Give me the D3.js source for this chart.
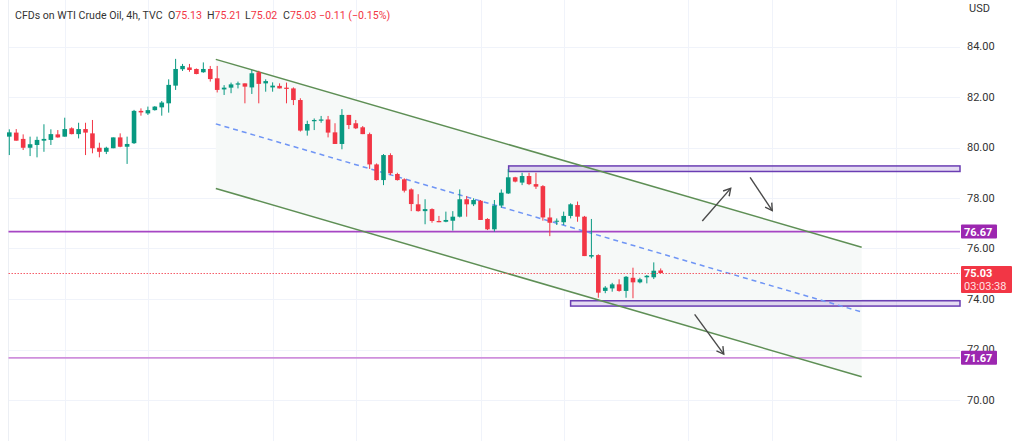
<!DOCTYPE html>
<html><head><meta charset="utf-8">
<script src="https://cdn.jsdelivr.net/npm/d3@7"></script>
<style>html,body{margin:0;padding:0;background:#fff;}svg{display:block;font-family:Roboto,"Trebuchet MS",sans-serif;}</style>
</head><body><svg id="c" width="1024" height="441"></svg>
<script>
// ---- data ----
const candleOpen  = [80.43,80.59,80.34,79.99,80.10,80.27,80.30,80.52,80.43,80.76,80.53,80.73,80.56,79.99,79.83,79.97,80.40,80.03,80.17,81.45,81.35,81.48,81.59,81.75,82.45,83.10,83.17,83.11,82.98,83.11,82.74,82.30,82.37,82.49,82.54,82.38,82.98,82.54,82.38,82.44,82.37,82.34,81.88,80.67,81.04,81.06,81.11,80.60,80.14,81.29,80.96,80.80,80.53,79.33,78.71,79.70,78.95,78.74,78.34,77.75,77.48,77.56,77.09,77.06,77.10,77.26,77.95,77.75,77.89,77.17,76.76,77.70,78.18,78.82,78.61,78.87,78.55,78.47,77.23,77.06,77.04,77.29,77.72,77.26,75.68,75.74,74.32,74.42,74.58,74.32,74.84,74.66,74.86,74.86,75.13];
const candleHigh  = [80.72,80.73,80.52,80.43,80.43,80.92,80.72,80.69,81.18,80.80,80.98,80.98,81.09,80.19,80.03,80.40,80.56,80.43,81.49,81.55,81.62,81.64,81.84,82.70,83.51,83.31,83.31,83.13,83.37,83.23,83.23,82.47,82.57,82.61,82.54,83.07,83.04,82.70,82.58,82.54,82.57,82.38,81.95,81.06,81.15,81.25,81.25,80.96,81.52,81.29,81.09,80.85,80.59,79.37,79.74,79.77,79.00,78.78,78.38,78.15,77.95,77.59,77.29,77.46,77.48,78.34,78.08,77.99,77.92,77.20,77.92,78.34,79.14,78.84,79.00,79.00,79.00,78.51,77.59,77.19,77.46,77.79,77.86,77.29,77.17,75.77,74.51,74.64,74.78,74.91,75.24,74.84,74.95,75.45,75.21];
const candleLow   = [79.70,80.27,79.90,79.66,79.61,79.83,80.10,80.39,80.43,80.52,80.36,79.70,79.77,79.61,79.74,79.97,80.01,79.35,80.14,81.26,81.29,81.46,81.26,81.38,82.28,83.03,83.00,82.90,82.96,82.61,82.18,82.08,82.15,82.34,81.75,82.12,81.75,82.21,82.21,82.34,81.75,81.68,80.63,80.47,80.69,80.98,80.40,80.14,79.93,80.73,80.73,80.53,79.15,78.69,78.51,78.91,78.69,78.22,77.48,77.46,76.96,77.02,77.04,77.04,76.71,77.23,77.26,77.68,77.13,76.73,76.67,77.62,78.16,78.62,78.51,78.51,78.36,77.10,76.49,76.93,76.93,77.19,77.06,75.70,75.61,74.05,74.23,74.29,74.29,74.05,74.03,74.62,74.62,74.79,75.02];
const candleClose = [80.60,80.27,79.99,80.13,80.30,80.34,80.53,80.40,80.73,80.53,80.73,80.59,79.97,79.83,79.99,80.40,80.03,80.14,81.45,81.39,81.48,81.62,81.78,82.48,83.11,83.23,83.07,82.91,83.11,82.71,82.28,82.37,82.50,82.54,82.41,82.94,82.52,82.63,82.45,82.34,82.32,81.88,80.67,80.93,81.09,81.11,80.59,80.14,81.29,80.89,80.76,80.53,79.33,78.71,79.70,78.98,78.71,78.29,77.76,77.48,77.56,77.09,77.04,77.13,77.26,77.95,77.75,77.92,77.13,76.76,77.70,78.21,78.82,78.65,78.87,78.55,78.45,77.23,77.02,77.10,77.29,77.75,77.26,75.70,75.74,74.25,74.45,74.58,74.32,74.88,74.66,74.78,74.92,75.12,75.03];

const priceTicks = [84, 82, 80, 78, 76, 74, 72, 70];
const timeGridIdx = [8, 20, 38, 50, 68, 80, 98, 110, 128];

// drawings (bar index, price)
const channelUpper = [[29.8, 83.49], [123.0, 76.05]];
const channelLower = [[29.8, 78.38], [123.0, 70.92]];
const zoneHigh = {startIdx: 72.06, top: 79.27, bottom: 79.05};
const zoneLow  = {startIdx: 81.0, top: 73.93, bottom: 73.72};
const levelLines = [76.67, 71.67];
const lastPrice = 75.03;
const countdown = "03:03:38";
const arrows = [
  [[100.0, 77.09], [104.1, 78.38]],
  [[106.9, 78.82], [110.1, 77.50]],
  [[98.9, 73.39], [103.1, 71.82]]
];
const titleText = "CFDs on WTI Crude Oil, 4h, TVC";
const ohlcLetters = ["O", "H", "L", "C", ""];
const ohlcValues = ["75.13", "75.21", "75.02", "75.03", "\u22120.11 (\u22120.15%)"];
const ohlcX = [168, 207, 245, 283, 319];

// ---- scales ----
const svg = d3.select("#c");
const x = d3.scaleLinear().domain([0, 94]).range([9.3, 660.7]);
const y = d3.scaleLinear().domain([70, 84]).range([400, 46.5]);
const plotL = 8.5, plotR = 960;
const UP = "#089981", DN = "#f23645";

svg.append("rect").attr("width",1024).attr("height",441).attr("fill","#fff");

// grid
const g = svg.append("g");
g.selectAll(".hg").data(priceTicks).join("line")
  .attr("x1", plotL).attr("x2", plotR)
  .attr("y1", d => Math.round(y(d))+0.5).attr("y2", d => Math.round(y(d))+0.5)
  .attr("stroke", "#f0f3fa").attr("stroke-width", 1);
g.selectAll(".vg").data(timeGridIdx).join("line")
  .attr("x1", d => Math.round(x(d))+0.5).attr("x2", d => Math.round(x(d))+0.5)
  .attr("y1", 0).attr("y2", 441)
  .attr("stroke", "#f0f3fa").attr("stroke-width", 1);
g.append("line").attr("x1",plotL).attr("x2",plotL).attr("y1",0).attr("y2",441)
  .attr("stroke","#eceff4").attr("stroke-width",1);

// channel fill
const pt = d => [x(d[0]), y(d[1])];
svg.append("path")
  .attr("d", d3.line()([pt(channelUpper[0]), pt(channelUpper[1]), pt(channelLower[1]), pt(channelLower[0])]) + "Z")
  .attr("fill", "#f6f9f8");

// level lines
svg.append("line").attr("x1",plotL).attr("x2",plotR)
  .attr("y1", y(levelLines[0])).attr("y2", y(levelLines[0]))
  .attr("stroke","#a646c4").attr("stroke-width",1.6);
svg.append("line").attr("x1",plotL).attr("x2",plotR)
  .attr("y1", y(levelLines[1])).attr("y2", y(levelLines[1]))
  .attr("stroke","#cf90dc").attr("stroke-width",1.8);

// zones
[zoneHigh, zoneLow].forEach(z => {
  svg.append("rect")
    .attr("x", x(z.startIdx)).attr("y", y(z.top))
    .attr("width", plotR - x(z.startIdx)).attr("height", y(z.bottom) - y(z.top))
    .attr("fill", "rgba(103,58,183,0.18)")
    .attr("stroke", "#6a3db3").attr("stroke-width", 1.5);
});

// channel lines
[channelUpper, channelLower].forEach(c => {
  svg.append("line").attr("x1", x(c[0][0])).attr("y1", y(c[0][1]))
    .attr("x2", x(c[1][0])).attr("y2", y(c[1][1]))
    .attr("stroke", "#5e8f55").attr("stroke-width", 1.5);
});
svg.append("line")
  .attr("x1", x(channelUpper[0][0])).attr("y1", y((channelUpper[0][1]+channelLower[0][1])/2))
  .attr("x2", x(channelUpper[1][0])).attr("y2", y((channelUpper[1][1]+channelLower[1][1])/2))
  .attr("stroke", "#6f95f5").attr("stroke-width", 1.5).attr("stroke-dasharray", "5,4");

// candles
const candles = candleOpen.map((o, i) => ({i, o, h: candleHigh[i], l: candleLow[i], c: candleClose[i]}));
const cg = svg.append("g");
cg.selectAll(".wick").data(candles).join("line")
  .attr("x1", d => x(d.i)).attr("x2", d => x(d.i))
  .attr("y1", d => y(d.h)).attr("y2", d => y(d.l))
  .attr("stroke", d => d.c >= d.o ? UP : DN).attr("stroke-width", 1);
cg.selectAll(".body").data(candles).join("rect")
  .attr("x", d => x(d.i) - 2.3).attr("width", 4.6)
  .attr("y", d => y(Math.max(d.o, d.c)))
  .attr("height", d => Math.max(1, Math.abs(y(d.o) - y(d.c))))
  .attr("fill", d => d.c >= d.o ? UP : DN);

// last price dotted line
svg.append("line").attr("x1", plotL).attr("x2", plotR)
  .attr("y1", Math.round(y(lastPrice))+0.5).attr("y2", Math.round(y(lastPrice))+0.5)
  .attr("stroke", "#f23645").attr("stroke-opacity", 0.8).attr("stroke-width", 1).attr("stroke-dasharray", "1.5,1.5");

// arrows
arrows.forEach(a => {
  const [x1, y1] = pt(a[0]), [x2, y2] = pt(a[1]);
  const ang = Math.atan2(y2 - y1, x2 - x1), L = 8, sp = Math.PI / 6;
  svg.append("line").attr("x1",x1).attr("y1",y1).attr("x2",x2).attr("y2",y2)
    .attr("stroke","#4a4a4a").attr("stroke-width",1.4);
  svg.append("path")
    .attr("d", d3.line()([[x2 - L*Math.cos(ang - sp), y2 - L*Math.sin(ang - sp)], [x2, y2], [x2 - L*Math.cos(ang + sp), y2 - L*Math.sin(ang + sp)]]))
    .attr("fill","none").attr("stroke","#4a4a4a").attr("stroke-width",1.4);
});

// price axis labels
svg.selectAll(".tl").data(priceTicks).join("text")
  .attr("x", 967).attr("y", d => y(d)).attr("dy", "0.35em")
  .attr("font-size", 11).attr("fill", "#333")
  .text(d => d3.format(".2f")(d));
svg.append("text").attr("x", 969).attr("y", 12).attr("font-size", 11).attr("fill", "#333").text("USD");

// level labels
levelLines.forEach(v => {
  const cy = y(v);
  svg.append("rect").attr("x", 961).attr("y", cy - 7).attr("width", 36).attr("height", 14)
    .attr("fill", "#9c27b0").attr("rx", 1);
  svg.append("text").attr("x", 964).attr("y", cy).attr("dy", "0.36em")
    .attr("font-size", 11).attr("font-weight", "bold").attr("fill", "#fff").text(d3.format(".2f")(v));
});
const ly = y(lastPrice);
svg.append("rect").attr("x", 961).attr("y", ly - 7).attr("width", 51).attr("height", 27)
  .attr("fill", DN).attr("rx", 1);
svg.append("text").attr("x", 964).attr("y", ly).attr("dy", "0.36em")
  .attr("font-size", 11).attr("font-weight", "bold").attr("fill", "#fff").text(d3.format(".2f")(lastPrice));
svg.append("text").attr("x", 964).attr("y", ly + 13).attr("dy", "0.36em")
  .attr("font-size", 11).attr("fill", "#ffe0e3").text(countdown);

// title
svg.append("text").attr("x", 15).attr("y", 19).attr("font-size", 10.6).attr("fill", "#333").text(titleText);
ohlcValues.forEach((v, i) => {
  const t = svg.append("text").attr("x", ohlcX[i]).attr("y", 19).attr("font-size", 10.6);
  if (ohlcLetters[i]) t.append("tspan").attr("fill", "#333").text(ohlcLetters[i]);
  t.append("tspan").attr("fill", DN).text(v);
});
</script></body></html>
